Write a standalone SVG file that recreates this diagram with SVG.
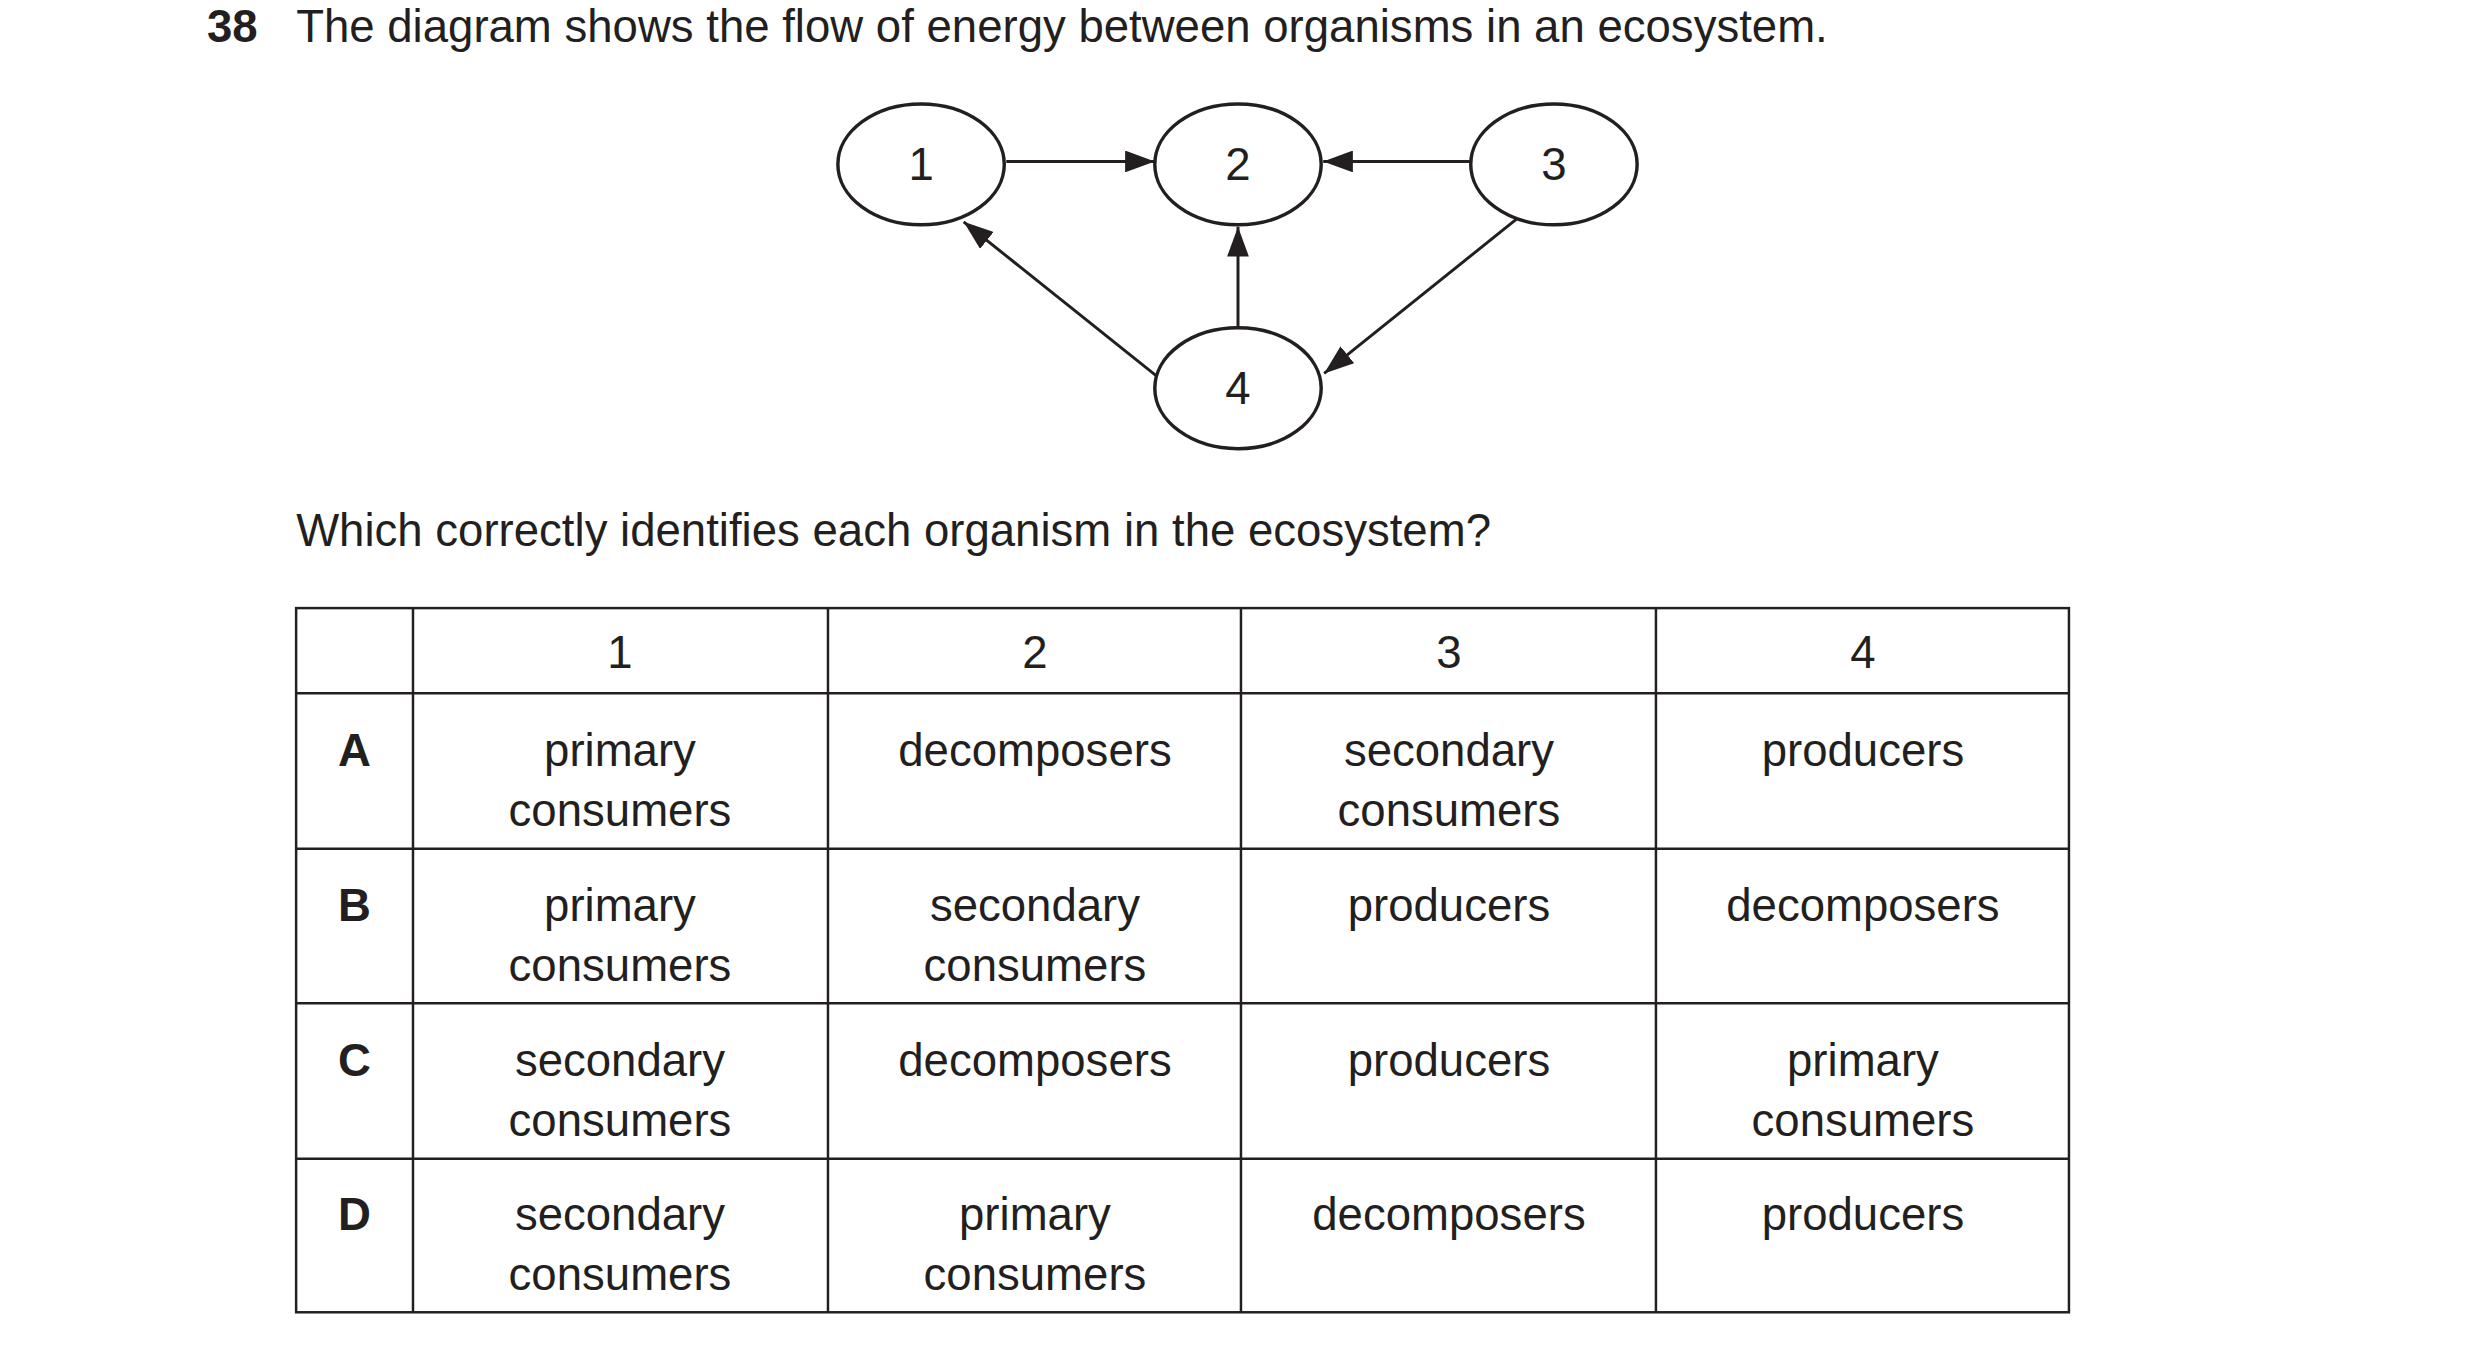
<svg xmlns="http://www.w3.org/2000/svg" width="2480" height="1352" viewBox="0 0 2480 1352">
<style>
text{font-family:"Liberation Sans",Arial,sans-serif;font-size:46px;fill:#231f20}
.c{text-anchor:middle}
.b{font-weight:bold}
.n{fill:#fff;stroke:#231f20;stroke-width:3.5}
.e{stroke:#231f20;stroke-width:3;fill:none}
.t{stroke:#231f20;stroke-width:2.5;fill:none}
</style>
<defs>
<marker id="a" viewBox="0 0 30 22" refX="30" refY="11" markerWidth="30" markerHeight="22" markerUnits="userSpaceOnUse" orient="auto"><path d="M0,0L30,11L0,22z" fill="#231f20"/></marker></defs>
<rect width="2480" height="1352" fill="#fff"/>
<g transform="scale(0.9904)">
<text x="209" y="42" class="b">38</text>
<text x="299" y="42">The diagram shows the flow of energy between organisms in an ecosystem.</text>
<g id="connectors">
<line class="e" x1="1016" y1="163" x2="1166" y2="163" marker-end="url(#a)"/>
<line class="e" x1="1487" y1="163" x2="1336" y2="163" marker-end="url(#a)"/>
<line class="e" x1="1250" y1="331" x2="1250" y2="229" marker-end="url(#a)"/>
<line class="e" x1="1167" y1="379" x2="973" y2="224" marker-end="url(#a)"/>
<line class="e" x1="1534" y1="219" x2="1337" y2="377" marker-end="url(#a)"/>
</g>
<g id="n1"><ellipse class="n" cx="930" cy="166" rx="84" ry="61"/><text x="930" y="182" class="c">1</text></g>
<g id="n2"><ellipse class="n" cx="1250" cy="166" rx="84" ry="61"/><text x="1250" y="182" class="c">2</text></g>
<g id="n3"><ellipse class="n" cx="1569" cy="166" rx="84" ry="61"/><text x="1569" y="182" class="c">3</text></g>
<g id="n4"><ellipse class="n" cx="1250" cy="392" rx="84" ry="61"/><text x="1250" y="408" class="c">4</text></g>
<text x="299" y="551">Which correctly identifies each organism in the ecosystem?</text>
<g id="table">
<rect class="t" x="299" y="614" width="1790" height="711"/>
<path class="t" d="M417,614V1325M836,614V1325M1253,614V1325M1672,614V1325M299,700H2089M299,857H2089M299,1013H2089M299,1170H2089"/>
<g class="c">
<text x="626" y="674">1</text><text x="1045" y="674">2</text><text x="1463" y="674">3</text><text x="1881" y="674">4</text>
<text x="358" y="773" class="b">A</text>
<text x="626" y="773">primary</text><text x="626" y="834">consumers</text>
<text x="1045" y="773">decomposers</text>
<text x="1463" y="773">secondary</text><text x="1463" y="834">consumers</text>
<text x="1881" y="773">producers</text>
<text x="358" y="930" class="b">B</text>
<text x="626" y="930">primary</text><text x="626" y="991">consumers</text>
<text x="1045" y="930">secondary</text><text x="1045" y="991">consumers</text>
<text x="1463" y="930">producers</text>
<text x="1881" y="930">decomposers</text>
<text x="358" y="1086" class="b">C</text>
<text x="626" y="1086">secondary</text><text x="626" y="1147">consumers</text>
<text x="1045" y="1086">decomposers</text>
<text x="1463" y="1086">producers</text>
<text x="1881" y="1086">primary</text><text x="1881" y="1147">consumers</text>
<text x="358" y="1242" class="b">D</text>
<text x="626" y="1242">secondary</text><text x="626" y="1303">consumers</text>
<text x="1045" y="1242">primary</text><text x="1045" y="1303">consumers</text>
<text x="1463" y="1242">decomposers</text>
<text x="1881" y="1242">producers</text>
</g>
</g>
</g>
</svg>
